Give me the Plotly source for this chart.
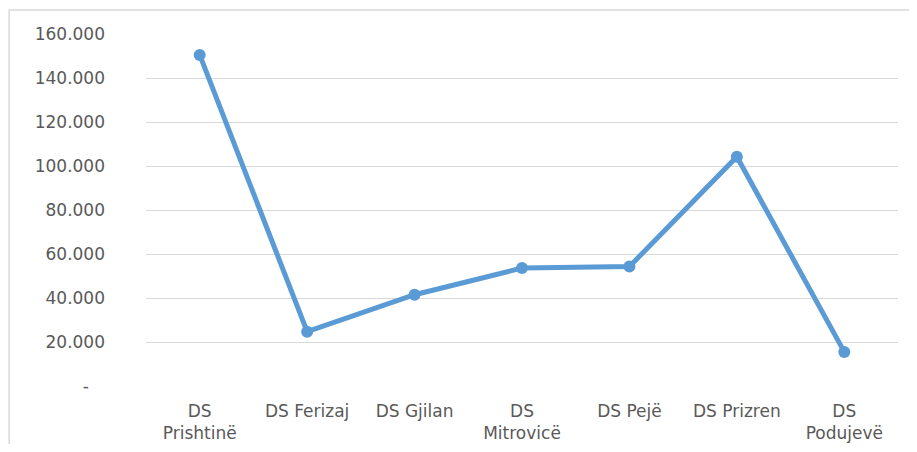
import plotly.graph_objects as go

categories = ["DS<br>Prishtinë", "DS Ferizaj", "DS Gjilan", "DS<br>Mitrovicë",
              "DS Pejë", "DS Prizren", "DS<br>Podujevë"]
values = [150500, 24700, 41500, 53600, 54300, 104200, 15500]
y_tickvals = [0, 20000, 40000, 60000, 80000, 100000, 120000, 140000, 160000]
y_ticktext = ["-\u00a0\u00a0\u00a0", "20.000", "40.000", "60.000", "80.000",
              "100.000", "120.000", "140.000", "160.000"]

fig = go.Figure()
fig.add_trace(go.Scatter(
    x=categories, y=values, mode="lines+markers",
    line=dict(color="#5B9BD5", width=5),
    marker=dict(color="#5B9BD5", size=12),
    showlegend=False,
))

font = dict(family="DejaVu Sans, sans-serif", size=17, color="#595959")

fig.update_layout(
    width=901, height=436,
    margin=dict(l=138, r=11, t=26, b=58),
    paper_bgcolor="white", plot_bgcolor="white",
    font=font,
    xaxis=dict(
        range=[-0.5, 6.5], automargin=False,
        showgrid=False, showline=False, zeroline=False, ticks="",
        tickfont=font, ticklabelstandoff=13,
    ),
    yaxis=dict(
        range=[0, 160000], tickvals=y_tickvals, ticktext=y_ticktext,
        automargin=False,
        showgrid=True, gridcolor="#D9D9D9", gridwidth=1,
        zeroline=False, showline=False, ticks="",
        tickfont=font, ticklabelstandoff=40,
    ),
    shapes=[dict(
        type="rect", xref="paper", yref="paper",
        x0=-0.182, x1=1.1, y0=-0.4, y1=1.068,
        line=dict(color="#D9D9D9", width=1.5), fillcolor="rgba(0,0,0,0)",
        layer="below",
    )],
)

fig.write_html("out.html")
